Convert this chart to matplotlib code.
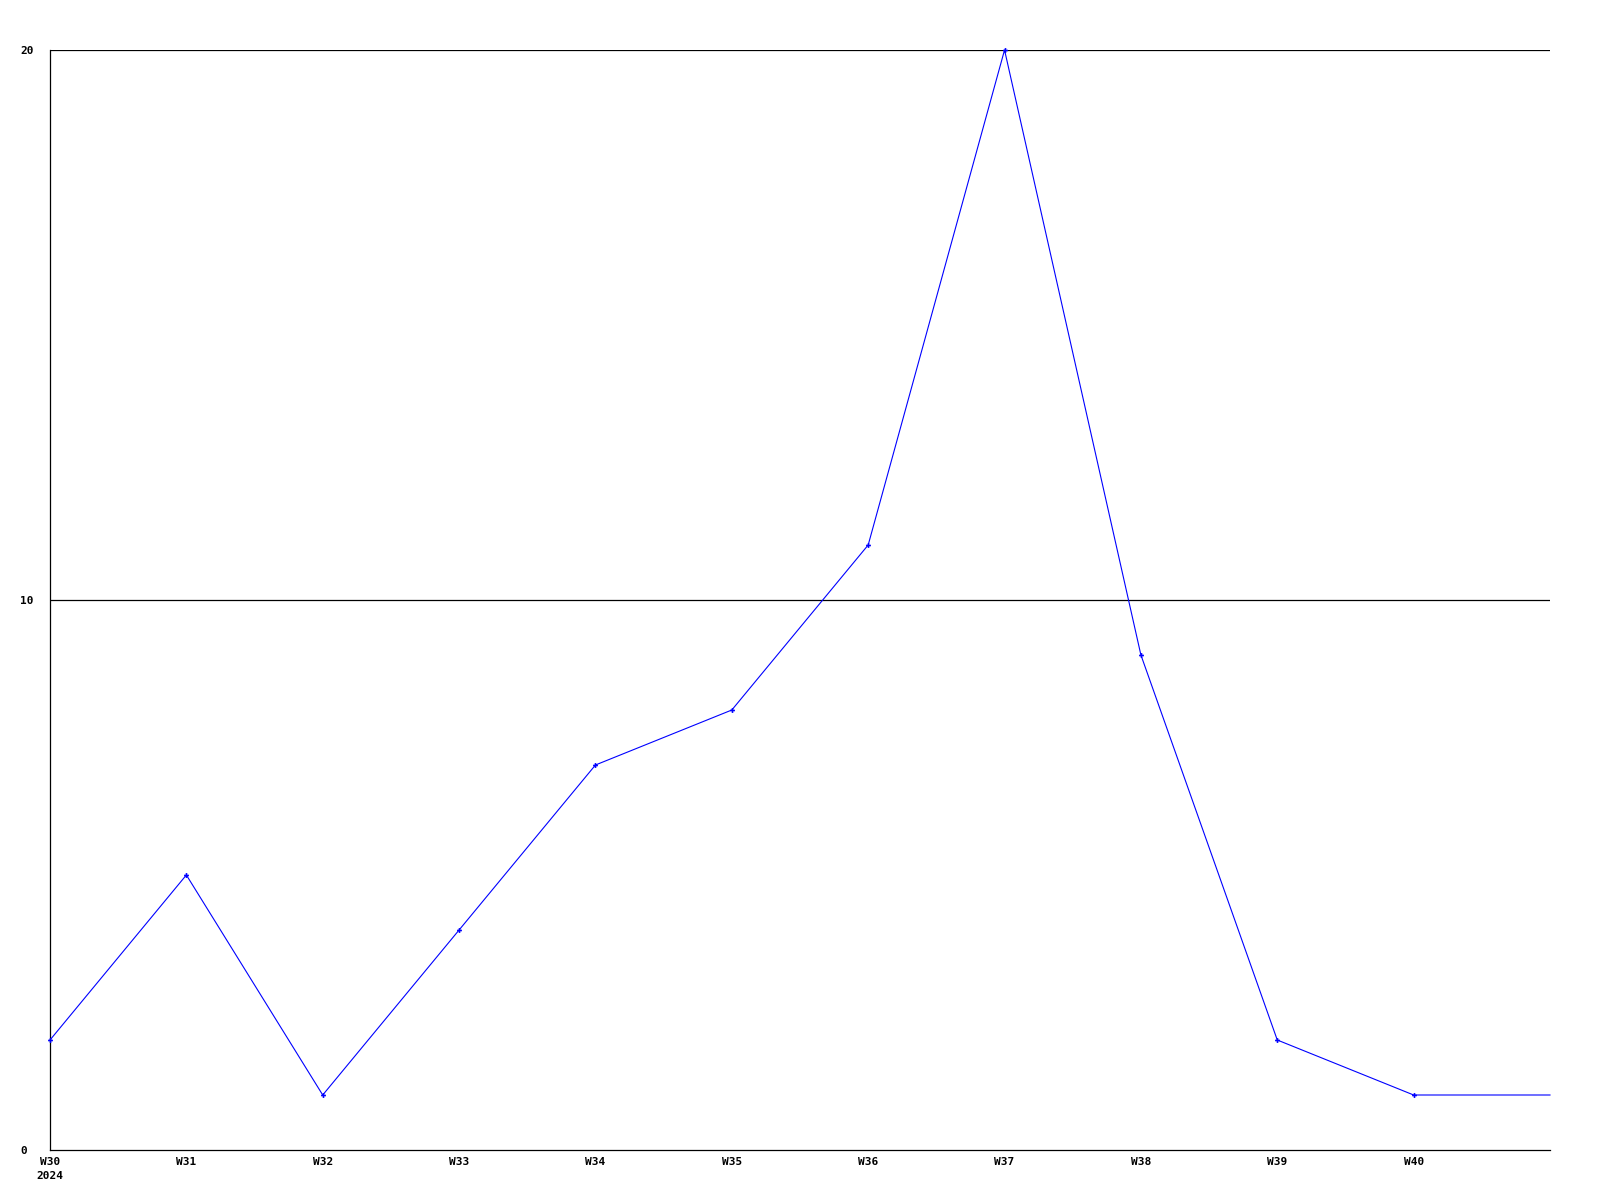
import matplotlib.pyplot as plt

weeks = ["W30", "W31", "W32", "W33", "W34", "W35", "W36", "W37", "W38", "W39", "W40", "W41"]
counts = [2, 5, 1, 4, 7, 8, 11, 20, 9, 2, 1, 1]
tick_labels = ["W30\n2024", "W31", "W32", "W33", "W34", "W35", "W36", "W37", "W38", "W39", "W40"]
y_ticks = [0, 10, 20]


def main():
    plt.rcParams["font.family"] = "DejaVu Sans Mono"
    fig = plt.figure(figsize=(16, 12), dpi=100)
    ax = fig.add_axes([50 / 1600, 50 / 1200, 1500 / 1600, 1100 / 1200])

    x = list(range(len(weeks)))
    ax.plot(x, counts, color="#0000ff", linewidth=0.8, marker="P",
            markersize=3.5, markeredgewidth=0, markevery=list(range(len(weeks) - 1)),
            clip_on=False, zorder=3)

    for v in y_ticks[1:]:
        ax.axhline(v, color="black", linewidth=0.9, zorder=1)

    ax.set_xlim(0, len(weeks) - 1)
    ax.set_ylim(0, 20)
    ax.set_xticks(x[:len(tick_labels)])
    ax.set_xticklabels(tick_labels, fontsize=8, fontweight="bold",
                       linespacing=1.55, va="top")
    ax.set_yticks(y_ticks)
    ax.set_yticklabels([str(v) for v in y_ticks], fontsize=8,
                       fontweight="bold", ha="left")
    ax.tick_params(axis="x", length=0, pad=5)
    ax.tick_params(axis="y", length=0, pad=21.6)

    for side in ("top", "right"):
        ax.spines[side].set_visible(False)
    for side in ("left", "bottom"):
        ax.spines[side].set_linewidth(0.9)
        ax.spines[side].set_color("black")

    return fig, ax


if __name__ == "__main__":
    fig, _ = main()
    fig.savefig("out.png", dpi=100)
